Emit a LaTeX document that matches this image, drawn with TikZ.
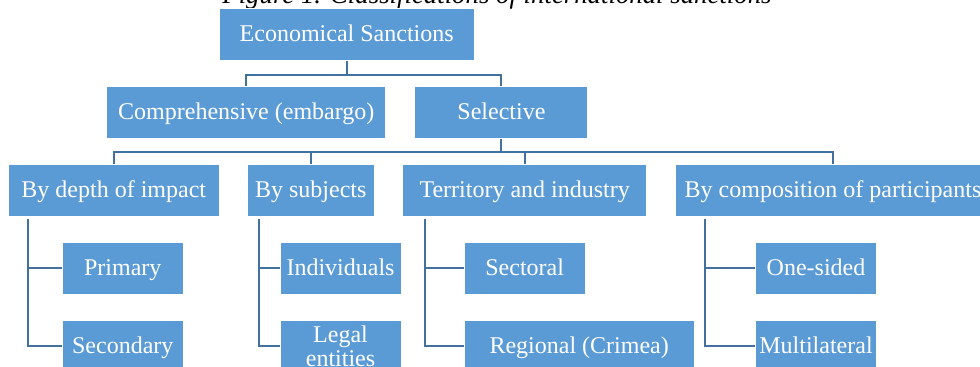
\documentclass[tikz,border=0pt]{standalone}
\usepackage{fontspec}
\setmainfont{Liberation Serif}
\usepackage{tikz}
\usetikzlibrary{positioning,calc}
\definecolor{boxfill}{HTML}{5B9BD5}
\definecolor{wire}{HTML}{41719C}
\definecolor{ink}{HTML}{000000}

\begin{document}
\begin{tikzpicture}[
  x=0.5pt, y=-0.5pt,
  font=\fontsize{12}{12}\selectfont,
  cell/.style={draw=white, line width=0.5pt, fill=boxfill, text=white,
               minimum height=26pt, inner sep=2pt, align=center},
  sbox/.style={cell, text height=8.2pt, text depth=1.2pt},
  link/.style={draw=wire, line width=1pt},
  captxt/.style={font=\fontsize{13.4}{16}\selectfont\itshape, text=ink, anchor=base},
]
\useasboundingbox (0,0) rectangle (980,367);
\clip (0,0) rectangle (980,367);

% ============================================================ TOP
\node[captxt] (ttl) at (497,4) {Figure 1. Classifications of international sanctions};
\node[sbox, minimum width=127.3pt] (root) at (346.7,35) {Economical Sanctions};
\node[sbox, minimum width=139.6pt] (comp) at (246.3,112.5) {Comprehensive (embargo)};
\node[sbox, minimum width=86.5pt, right=14pt of comp] (sel) {Selective};

\draw[link] (root.south) -- ++(0,14) coordinate (b1);
\draw[link] (comp.north) |- (b1) -| (sel.north);

% ============================================================ CRITERIA
\node[sbox, minimum width=105.5pt] (depth) at (113.8,190.7) {By depth of impact};
\node[sbox, minimum width=63.5pt]  (subj)  at (310.8,190.7) {By subjects};
\node[sbox, minimum width=122pt]   (terr)  at (524.7,190.7) {Territory and industry};
\node[sbox, minimum width=158pt]   (compo) at (833,190.7) {By composition of participants};

\draw[link] (sel.south) -- ++(0,13.4) coordinate (b2);
\foreach \n in {depth,subj,terr,compo}
  \draw[link] (\n.north) |- (b2);

% ============================================================ KINDS
\node[sbox, minimum width=60.5pt] (prim)  at (122.8,268.3) {Primary};
\node[sbox, minimum width=60.5pt, below=12.5pt of prim] (sec) {Secondary};
\node[sbox, minimum width=60.5pt] (indiv) at (340.5,268.3) {Individuals};
\node[cell, minimum width=60.5pt, below=12.5pt of indiv] (legal) {Legal\\entities};
\node[sbox, minimum width=60.5pt] (sect)  at (524.7,268.3) {Sectoral};
\node[sbox, minimum width=115pt, below=12.5pt of sect.south west, anchor=north west] (reg) {Regional (Crimea)};
\node[sbox, minimum width=60.5pt] (one)   at (816,268.3) {One-sided};
\node[sbox, minimum width=60.5pt, below=12.5pt of one] (multi) {Multilateral};

% spines down the left of each criterion
\foreach \p/\a/\b in {depth/prim/sec, subj/indiv/legal, terr/sect/reg, compo/one/multi}{
  \coordinate (\p-s) at ($(\p.south west)!0.095!(\p.south east)+(0,2)$);
  \draw[link] (\p-s) |- (\a.west);
  \draw[link] (\p-s) |- (\b.west);
}

\end{tikzpicture}
\end{document}
